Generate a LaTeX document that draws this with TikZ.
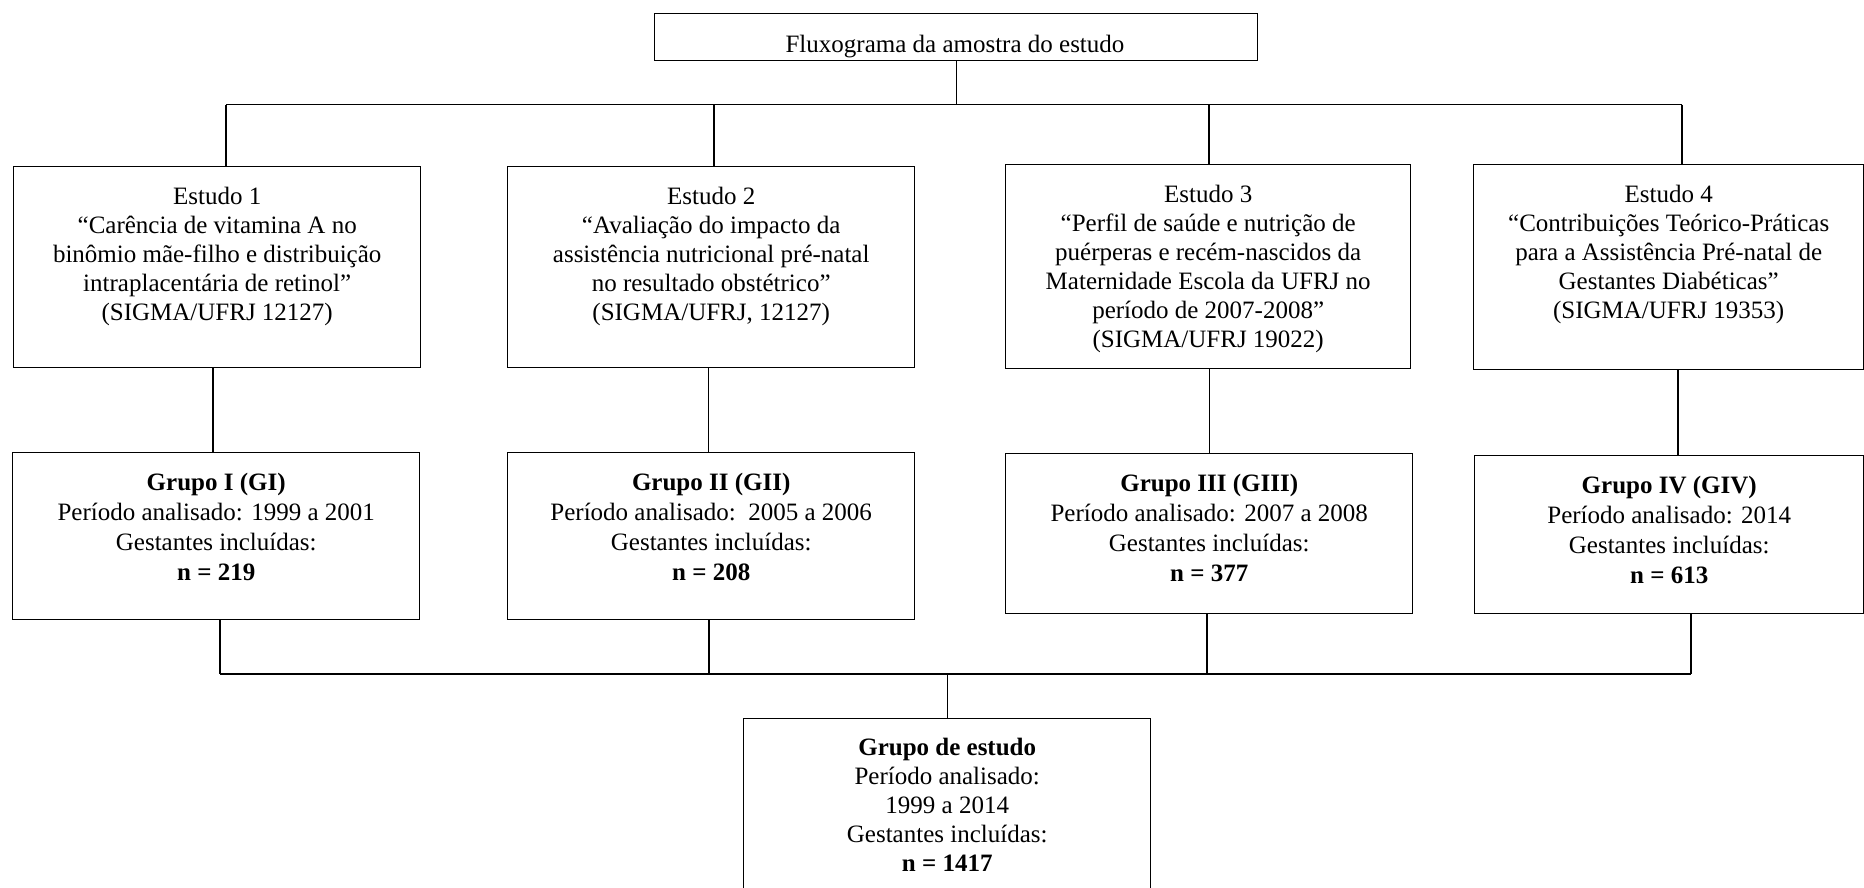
\documentclass[tikz,border=0pt]{standalone}
\usepackage{fontspec}
\setmainfont{Liberation Serif}
\begin{document}
\begin{tikzpicture}[x=1pt,y=-1pt,
  box/.style={draw, line width=1.4pt, inner sep=0pt, anchor=north west},
  txt/.style={align=center, anchor=north, inner sep=0pt, font=\fontsize{25}{29}\selectfont},
  gtxt/.style={align=center, anchor=north, inner sep=0pt, font=\fontsize{25}{30}\selectfont},
  conn/.style={line width=1.1pt}]
\useasboundingbox (0,0) rectangle (1864,887);
\clip (0,0) rectangle (1864,887);
% top box
\node[box, minimum width=603pt, minimum height=47pt] (top) at (654,13) {};
\node[anchor=base, inner sep=0pt, font=\fontsize{25}{29}\selectfont] (toptxt) at (955,52) {Fluxograma da amostra do estudo};
% study boxes
\node[box, minimum width=407pt, minimum height=201pt] (e1) at (13,166) {};
\node[box, minimum width=407pt, minimum height=201pt] (e2) at (507,166) {};
\node[box, minimum width=405pt, minimum height=204pt] (e3) at (1005,164) {};
\node[box, minimum width=390pt, minimum height=205pt] (e4) at (1473,164) {};
\node[txt] (e1t) at ([yshift=-21pt]e1.north) {Estudo 1\\“Carência de vitamina A no\\binômio mãe-filho e distribuição\\intraplacentária de retinol”\\(SIGMA/UFRJ 12127)};
\node[txt] (e2t) at ([yshift=-21pt]e2.north) {Estudo 2\\“Avaliação do impacto da\\assistência nutricional pré-natal\\no resultado obstétrico”\\(SIGMA/UFRJ, 12127)};
\node[txt] (e3t) at ([yshift=-21pt]e3.north) {Estudo 3\\“Perfil de saúde e nutrição de\\puérperas e recém-nascidos da\\Maternidade Escola da UFRJ no\\período de 2007-2008”\\(SIGMA/UFRJ 19022)};
\node[txt] (e4t) at ([yshift=-21pt]e4.north) {Estudo 4\\“Contribuições Teórico-Práticas\\para a Assistência Pré-natal de\\Gestantes Diabéticas”\\(SIGMA/UFRJ 19353)};
% group boxes
\node[box, minimum width=407pt, minimum height=167pt] (g1) at (12,452) {};
\node[box, minimum width=407pt, minimum height=167pt] (g2) at (507,452) {};
\node[box, minimum width=407pt, minimum height=160pt] (g3) at (1005,453) {};
\node[box, minimum width=389pt, minimum height=158pt] (g4) at (1474,455) {};
\node[gtxt] (g1t) at ([yshift=-21pt]g1.north) {\textbf{Grupo I (GI)}\\Período analisado: 1999 a 2001\\Gestantes incluídas:\\\textbf{n = 219}};
\node[gtxt] (g2t) at ([yshift=-21pt]g2.north) {\textbf{Grupo II (GII)}\\Período analisado:\ \ 2005 a 2006\\Gestantes incluídas:\\\textbf{n = 208}};
\node[gtxt] (g3t) at ([yshift=-21pt]g3.north) {\textbf{Grupo III (GIII)}\\Período analisado: 2007 a 2008\\Gestantes incluídas:\\\textbf{n = 377}};
\node[gtxt] (g4t) at ([yshift=-21pt]g4.north) {\textbf{Grupo IV (GIV)}\\Período analisado: 2014\\Gestantes incluídas:\\\textbf{n = 613}};
% final box
\node[box, minimum width=407pt, minimum height=200pt] (fin) at (743,718) {};
\node[txt] (fint) at ([yshift=-20pt]fin.north) {\textbf{Grupo de estudo}\\Período analisado:\\1999 a 2014\\Gestantes incluídas:\\\textbf{n = 1417}};
% top bus
\coordinate (tj) at (top.south |- 0,104.6);
\coordinate (t1) at (226,104.6);
\coordinate (t2) at (714,104.6);
\coordinate (t3) at (1209,104.6);
\coordinate (t4) at (1682,104.6);
\draw[conn] (top.south) -- (tj);
\draw[conn] (t1) -- (t4);
\draw[conn] (t1) -- (t1 |- e1.north);
\draw[conn] (t2) -- (t2 |- e2.north);
\draw[conn] (t3) -- (t3 |- e3.north);
\draw[conn] (t4) -- (t4 |- e4.north);
% study to group
\coordinate (m1) at (213,0);
\coordinate (m2) at (708.5,0);
\coordinate (m3) at (1209.5,0);
\coordinate (m4) at (1678,0);
\draw[conn] (e1.south -| m1) -- (g1.north -| m1);
\draw[conn] (e2.south -| m2) -- (g2.north -| m2);
\draw[conn] (e3.south -| m3) -- (g3.north -| m3);
\draw[conn] (e4.south -| m4) -- (g4.north -| m4);
% bottom bus
\coordinate (b1) at (220,674);
\coordinate (b2) at (709,674);
\coordinate (b3) at (1207,674);
\coordinate (b4) at (1691,674);
\coordinate (bj) at (fin.north |- 0,674);
\draw[conn] (b1 |- g1.south) -- (b1);
\draw[conn] (b2 |- g2.south) -- (b2);
\draw[conn] (b3 |- g3.south) -- (b3);
\draw[conn] (b4 |- g4.south) -- (b4);
\draw[conn] (b1) -- (b4);
\draw[conn] (bj) -- (fin.north);
\end{tikzpicture}
\end{document}
